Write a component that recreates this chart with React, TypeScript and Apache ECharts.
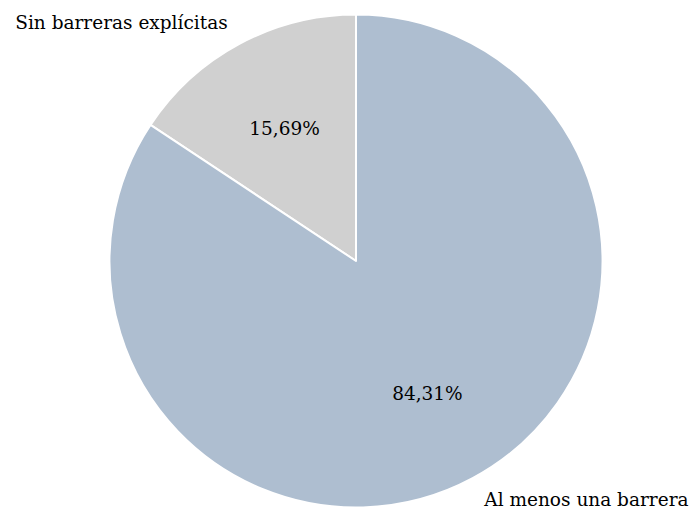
import React, { useEffect, useRef } from "react";
import * as echarts from "echarts";

const categories = ["Sin barreras explícitas", "Al menos una barrera"];
const values = [15.69, 84.31];
const colors = ["#d0d0d0", "#aebed0"];

const CX = 356;
const CY = 261;
const R = 246.5;

export default function App() {
  const ref = useRef<HTMLDivElement>(null);
  useEffect(() => {
    if (!ref.current) return;
    const chart = echarts.init(ref.current, null, { renderer: "svg" });
    const data = categories.map((name, i) => ({
      name,
      value: values[i],
      itemStyle: { color: colors[i] },
    }));
    const font = { fontFamily: "DejaVu Serif", fontSize: 18.5, color: "#000" };
    chart.setOption({
      animation: false,
      backgroundColor: "#fff",
      series: [
        {
          type: "pie",
          center: [CX, CY],
          radius: [0, R],
          startAngle: 90,
          clockwise: false,
          avoidLabelOverlap: false,
          silent: true,
          data,
          itemStyle: { borderColor: "#fff", borderWidth: 2 },
          label: {
            show: true,
            position: "outside",
            formatter: "{b}",
            distanceToLabelLine: 0,
            ...font,
          },
          labelLine: { show: false, length: R * 0.1, length2: 0 },
        },
        {
          type: "pie",
          center: [CX, CY],
          radius: [0, R * 1.2],
          startAngle: 90,
          clockwise: false,
          avoidLabelOverlap: false,
          silent: true,
          data: categories.map((name, i) => ({ name, value: values[i] })),
          itemStyle: { color: "transparent", borderWidth: 0 },
          label: {
            show: true,
            position: "inside",
            formatter: (p: any) => p.value.toFixed(2).replace(".", ",") + "%",
            ...font,
          },
          labelLine: { show: false },
        },
      ],
    });
    return () => chart.dispose();
  }, []);
  return (
    <div
      ref={ref}
      style={{ position: "absolute", left: 0, top: 0, width: 694, height: 508 }}
    />
  );
}
